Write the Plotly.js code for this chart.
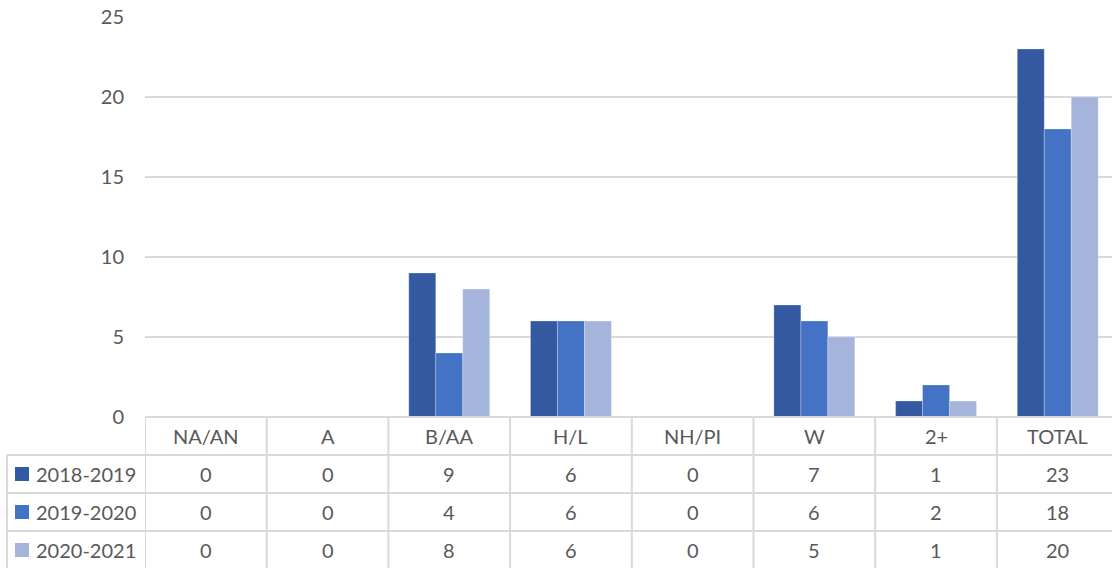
<!DOCTYPE html>
<html>
<head>
<meta charset="utf-8">
<script src="https://cdn.plot.ly/plotly-3.0.1.min.js"></script>
<style>html,body{margin:0;padding:0;background:#fff;}</style>
</head>
<body>
<div id="chart" style="width:1112px;height:568px;"></div>
<script>
const categories = ['NA/AN','A','B/AA','H/L','NH/PI','W','2+','TOTAL'];
const seriesNames = ['2018-2019','2019-2020','2020-2021'];
const s2018 = [0,0,9,6,0,7,1,23];
const s2019 = [0,0,4,6,0,6,2,18];
const s2020 = [0,0,8,6,0,5,1,20];
const yTicks = [0,5,10,15,20,25];

const colors = ['#335aa1','#4472c4','#a5b4db'];
const values = [s2018, s2019, s2020];
const W = 1112, H = 568;
const mL = 145, mT = 17, mB = 151;
const plotH = H - mT - mB;
const font = 'Lato, "Open Sans", sans-serif';
const txt = '#595959';
const grid = '#d9d9d9';
const idx = categories.map((c,i)=>i);

const traces = values.map((v,k)=>({
  type:'bar', x: idx, y: v, name: seriesNames[k],
  marker:{color: colors[k], line:{color:'rgba(255,255,255,0.5)', width:0.5}},
  hovertemplate: categories.map(c=>c)+'', 
}));
traces.forEach((t,k)=>{ t.customdata = categories; t.hovertemplate = '%{customdata}: %{y}<extra>'+seriesNames[k]+'</extra>'; });

const py = p => (H - mB - p) / plotH;        // pixel y -> paper y
const px = p => (p - mL) / (W - mL);         // pixel x -> paper x

const headerY = 436, rowY = [474, 512, 550];
const lineY = [417, 455, 493, 531];

const annotations = [];
const shapes = [];
categories.forEach((c,i)=>{
  annotations.push({xref:'x', yref:'paper', x:i, y:py(headerY), text:c, showarrow:false,
    font:{family:font, size:20, color:txt}, xanchor:'center', yanchor:'middle'});
  values.forEach((v,k)=>{
    annotations.push({xref:'x', yref:'paper', x:i, y:py(rowY[k]), text:String(v[i]), showarrow:false,
      font:{family:font, size:20, color:txt}, xanchor:'center', yanchor:'middle'});
  });
});
seriesNames.forEach((n,k)=>{
  annotations.push({xref:'paper', yref:'paper', x:px(34), y:py(rowY[k]), text:n, showarrow:false,
    font:{family:font, size:20, color:txt}, xanchor:'left', yanchor:'middle'});
  shapes.push({type:'rect', xref:'paper', yref:'paper', x0:px(15), x1:px(29),
    y0:py(rowY[k]+7), y1:py(rowY[k]-7), fillcolor:colors[k], line:{width:0}});
});
// table horizontal lines
lineY.forEach((ly,j)=>{
  shapes.push({type:'line', xref:'paper', yref:'paper', x0: j===0 ? 0 : px(7), x1:1.02,
    y0:py(ly), y1:py(ly), line:{color:grid, width:2}});
});
// table vertical lines
for (let i=0;i<=categories.length;i++){
  shapes.push({type:'line', xref:'x', yref:'paper', x0:i-0.5, x1:i-0.5, y0:py(417), y1:py(H+5), line:{color:grid, width:2}});
}
shapes.push({type:'line', xref:'paper', yref:'paper', x0:px(7), x1:px(7), y0:py(455), y1:py(H+5), line:{color:grid, width:2}});

const layout = {
  width:W, height:H,
  margin:{l:mL, r:0, t:mT, b:mB},
  paper_bgcolor:'#ffffff', plot_bgcolor:'#ffffff',
  barmode:'group', bargap:0.335, bargroupgap:0,
  showlegend:false,
  xaxis:{range:[-0.5, -0.5 + (W-mL)/121.7], showticklabels:false, showgrid:false, zeroline:false, fixedrange:true},
  yaxis:{range:[0,25], tickvals:yTicks, ticktext:yTicks.map(String), showgrid:true, gridcolor:grid, gridwidth:1.5,
    zeroline:false, ticks:'', ticklabelstandoff:20,
    tickfont:{family:font, size:20, color:txt}, fixedrange:true},
  annotations, shapes
};
Plotly.newPlot('chart', traces, layout, {displayModeBar:false, staticPlot:false});
</script>
</body>
</html>
